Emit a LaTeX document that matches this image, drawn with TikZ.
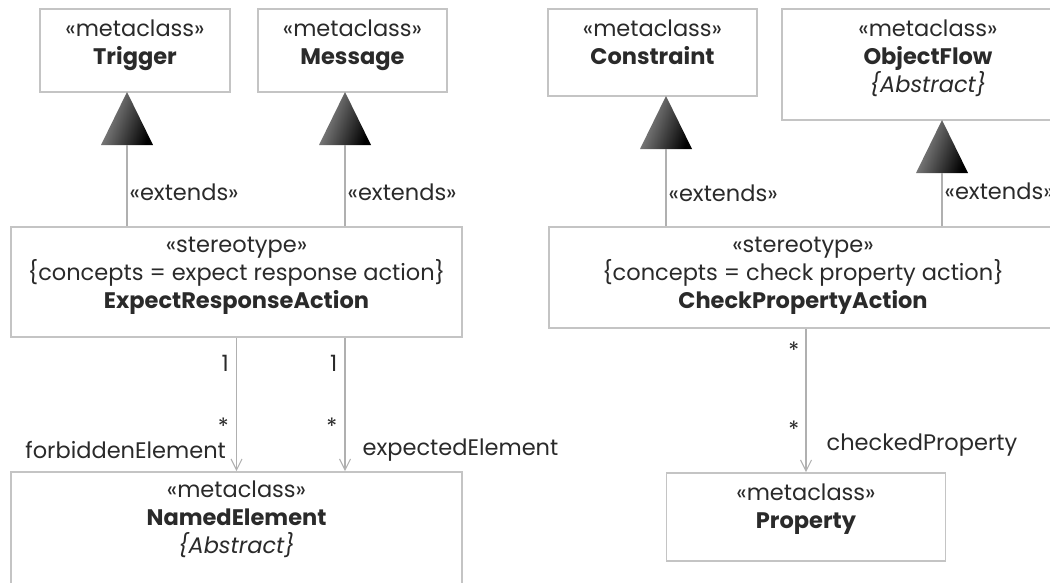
\documentclass[tikz,border=0pt]{standalone}
\usepackage{fontspec}
\setmainfont{Poppins}
\usetikzlibrary{arrows.meta,positioning}
\definecolor{boxline}{HTML}{C4C4C4}
\definecolor{linkline}{HTML}{B0B0B0}
\definecolor{ink}{HTML}{2A2A2A}

% shaded generalisation triangle: #1 name of base coordinate, #2 x of tip, #3 y of tip
\newcommand\gentri[3]{%
  \shade[gentri] (#2,#3) -- (#2+26,#3+53) -- (#2-26,#3+53) -- cycle;
  \coordinate (#1) at (#2,#3+53);}

\begin{document}
\begin{tikzpicture}[x=1pt,y=-1pt,
  umlbox/.style={draw=boxline, line width=1.6pt, fill=white, rectangle, inner sep=0pt},
  boxtext/.style={text=ink, align=center, font=\fontsize{22.5}{28}\selectfont, inner sep=0pt},
  lbl/.style={text=ink, font=\fontsize{22.5}{24}\selectfont, inner sep=0pt},
  ext/.style={draw=linkline, line width=1.3pt},
  assoc/.style={draw=linkline, line width=1.3pt,
    -{Straight Barb[length=11pt,width=11pt,line width=1.1pt]}},
  gentri/.style={left color=black!42, right color=black, shading angle=70}
]
\useasboundingbox (0,0) rectangle (1050,582);
\clip (0,0) rectangle (1050,582);

% --- left group --------------------------------------------------------
\node[umlbox, minimum width=190pt, minimum height=83pt] (trig) at (135,50.5) {};
\node[boxtext, below=11pt of trig.north] (trigT) {«metaclass»\\\textbf{Trigger}};

\node[umlbox, minimum width=189pt, minimum height=83pt] (msg) at (352.5,50.5) {};
\node[boxtext, below=11pt of msg.north] (msgT) {«metaclass»\\\textbf{Message}};

\node[umlbox, minimum width=451pt, minimum height=110pt] (era) at (236.5,282) {};
\node[boxtext, below=10.5pt of era.north] (eraT)
  {«stereotype»\\\{concepts = expect response action\}\\\textbf{ExpectResponseAction}};

\node[umlbox, minimum width=451pt, minimum height=150pt] (named) at (236.5,547) {};
\node[boxtext, below=9.5pt of named.north] (namedT)
  {«metaclass»\\\textbf{NamedElement}\\\textit{\{Abstract\}}};

\gentri{trigBase}{127}{92}
\gentri{msgBase}{345}{92}

\draw[ext] (era.north -| trigBase) -- (trigBase)
  node[lbl, pos=0.42, right=2pt] (ext1) {«extends»};
\draw[ext] (era.north -| msgBase) -- (msgBase)
  node[lbl, pos=0.42, right=2pt] (ext2) {«extends»};

\draw[assoc] (era.south) -- (named.north)
  node[lbl, pos=0.19, left=7pt] (m1) {1}
  node[lbl, pos=0.665, left=7pt] (m2) {*}
  node[lbl, pos=0.84, left=10pt] (forb) {forbiddenElement};
\draw[assoc] ([xshift=108.5pt]era.south) -- ([xshift=108.5pt]named.north)
  node[lbl, pos=0.19, left=7pt] (m3) {1}
  node[lbl, pos=0.665, left=7pt] (m4) {*}
  node[lbl, pos=0.84, right=17pt] (expe) {expectedElement};

% --- right group -------------------------------------------------------
\node[umlbox, minimum width=209pt, minimum height=87pt] (cons) at (652.5,52.5) {};
\node[boxtext, below=11pt of cons.north] (consT) {«metaclass»\\\textbf{Constraint}};

\node[umlbox, minimum width=292pt, minimum height=111pt] (objf) at (928,64.5) {};
\node[boxtext, below=11pt of objf.north] (objfT)
  {«metaclass»\\\textbf{ObjectFlow}\\\textit{\{Abstract\}}};

\node[umlbox, minimum width=508pt, minimum height=101pt] (cpa) at (803,277.5) {};
\node[boxtext, below=10.5pt of cpa.north] (cpaT)
  {«stereotype»\\\{concepts = check property action\}\\\textbf{CheckPropertyAction}};

\node[umlbox, minimum width=279pt, minimum height=88pt] (prop) at (806,517) {};
\node[boxtext, below=11pt of prop.north] (propT) {«metaclass»\\\textbf{Property}};

\gentri{consBase}{666}{96}
\gentri{objfBase}{942}{120}

\draw[ext] (cpa.north -| consBase) -- (consBase)
  node[lbl, pos=0.43, right=2pt] (ext3) {«extends»};
\draw[ext] (cpa.north -| objfBase) -- (objfBase)
  node[lbl, pos=0.65, right=2pt] (ext4) {«extends»};

\draw[assoc] ([xshift=3pt]cpa.south) -- (prop.north)
  node[lbl, pos=0.15, left=6pt] (m5) {*}
  node[lbl, pos=0.70, left=6pt] (m6) {*}
  node[lbl, pos=0.81, right=20pt] (chk) {checkedProperty};
\end{tikzpicture}
\end{document}
